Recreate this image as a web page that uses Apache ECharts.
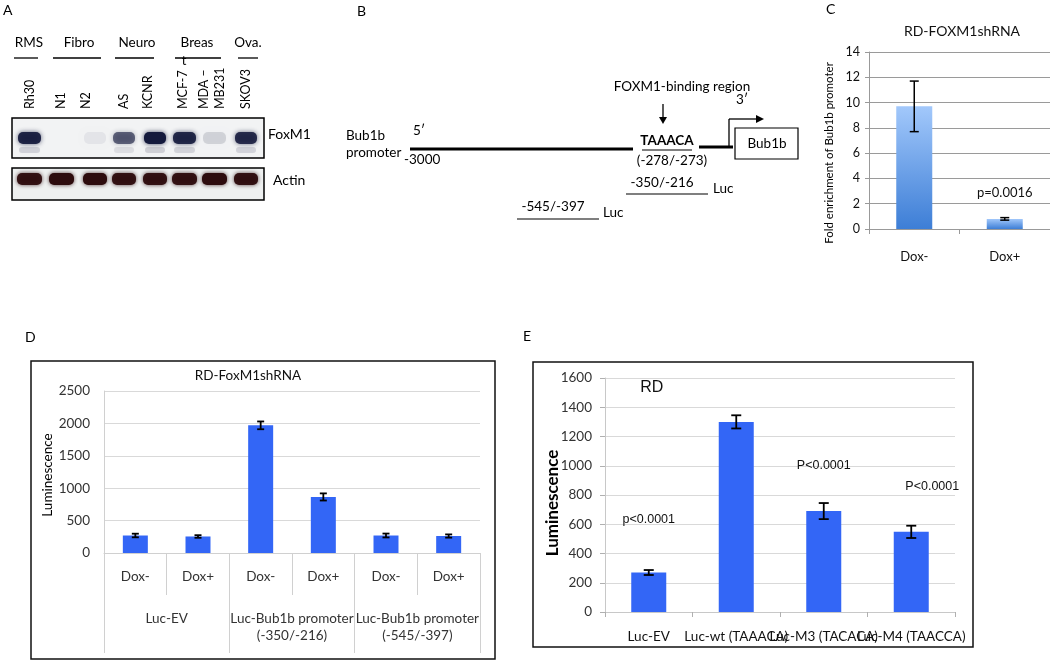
<!DOCTYPE html>
<html>
<head>
<meta charset="utf-8">
<script src="https://cdn.jsdelivr.net/npm/echarts@6/dist/echarts.min.js"></script>
<style>
html,body{margin:0;padding:0;background:#fff;}
#main{width:1050px;height:661px;}
</style>
</head>
<body>
<div id="main"></div>
<script>
// ---------- DATA ----------
// Panel A (western blot)
var blotGroups = ['RMS', 'Fibro', 'Neuro', 'Breas', 'Ova.'];
var blotLanes = ['Rh30', 'N1', 'N2', 'AS', 'KCNR', 'MCF-7', 'MDA –\nMB231', 'SKOV3'];
var foxm1Intensity = [0.92, 0.0, 0.06, 0.62, 1.0, 0.9, 0.14, 0.88];
var actinIntensity = [0.95, 1.0, 1.0, 0.95, 0.95, 0.95, 1.0, 0.95];

// Panel C
var cCategories = ['Dox-', 'Dox+'];
var cValues = [9.7, 0.8];
var cErrors = [2.0, 0.1];
var cTicks = [0, 2, 4, 6, 8, 10, 12, 14];

// Panel D
var dCategories = ['Dox-', 'Dox+', 'Dox-', 'Dox+', 'Dox-', 'Dox+'];
var dGroups = ['Luc-EV', 'Luc-Bub1b promoter\n(-350/-216)', 'Luc-Bub1b promoter\n(-545/-397)'];
var dValues = [270, 255, 1970, 865, 270, 262];
var dErrors = [28, 20, 60, 55, 30, 25];
var dTicks = [0, 500, 1000, 1500, 2000, 2500];

// Panel E
var eCategories = ['Luc-EV', 'Luc-wt (TAAACA)', 'Luc-M3 (TACACA)', 'Luc-M4 (TAACCA)'];
var eValues = [270, 1300, 690, 548];
var eErrors = [17, 45, 55, 42];
var ePvalues = ['p<0.0001', '', 'P<0.0001', 'P<0.0001'];
var eTicks = [0, 200, 400, 600, 800, 1000, 1200, 1400, 1600];

// ---------- HELPERS ----------
var CAL = 'Lato, "Open Sans", "Noto Sans", sans-serif';
var ARI = '"Liberation Sans", Arial, sans-serif';
function plain(v) { return String(v); }

function errData(vals, errs) {
  return vals.map(function (v, i) { return [i, v - errs[i], v + errs[i]]; });
}
function errRender(capW, lw) {
  return function (params, api) {
    var x = api.value(0), lo = api.value(1), hi = api.value(2);
    var p1 = api.coord([x, hi]), p2 = api.coord([x, lo]);
    var st = { stroke: '#000', lineWidth: lw };
    return {
      type: 'group',
      children: [
        { type: 'line', shape: { x1: p1[0], y1: p1[1], x2: p2[0], y2: p2[1] }, style: st },
        { type: 'line', shape: { x1: p1[0] - capW / 2, y1: p1[1], x2: p1[0] + capW / 2, y2: p1[1] }, style: st },
        { type: 'line', shape: { x1: p2[0] - capW / 2, y1: p2[1], x2: p2[0] + capW / 2, y2: p2[1] }, style: st }
      ]
    };
  };
}

// ---------- GRAPHIC: panel A ----------
var g = [];
function txt(x, y, s, o) {
  o = o || {};
  g.push({
    type: 'text', x: x, y: y, rotation: o.rot || 0, z: 10,
    style: {
      text: s, fontSize: o.size || 13, fontFamily: o.font || CAL, fill: o.color || '#000',
      fontWeight: o.bold ? 'bold' : 'normal', textAlign: o.align || 'left',
      textVerticalAlign: o.valign || 'middle', lineHeight: o.lh || undefined
    }
  });
}
function ln(x1, y1, x2, y2, w, c) {
  g.push({ type: 'line', z: 5, shape: { x1: x1, y1: y1, x2: x2, y2: y2 }, style: { stroke: c || '#000', lineWidth: w || 1 } });
}

txt(3, 10, 'A', { size: 14 });
var groupX = [29, 79, 137, 197, 248];
var groupLine = [[14, 38], [53, 101], [115, 154], [175, 221], [238, 258]];
blotGroups.forEach(function (s, i) {
  txt(groupX[i], 43, s, { size: 13.5, align: 'center' });
  ln(groupLine[i][0], 58, groupLine[i][1], 58, 1.3);
});
txt(184, 61, 't', { size: 13, align: 'center' });
var laneX = [30, 61, 86, 124, 148, 183, 212, 246];
blotLanes.forEach(function (s, i) {
  txt(laneX[i], 109, s, { size: 12.5, rot: Math.PI / 2, align: 'left', lh: 16 });
});
// blot boxes
g.push({ type: 'rect', z: 2, shape: { x: 12, y: 118, width: 252, height: 40 }, style: { fill: '#f2f3f4', stroke: '#000', lineWidth: 1.5 } });
g.push({ type: 'rect', z: 2, shape: { x: 12, y: 168, width: 252, height: 32 }, style: { fill: '#eef0f0', stroke: '#000', lineWidth: 1.5 } });
var bandX = [[17, 42], [49, 74], [83, 107], [112, 136], [143, 167], [172, 197], [202, 227], [234, 258]];
foxm1Intensity.forEach(function (v, i) {
  if (v <= 0.01) return;
  var b = bandX[i];
  var a = v;
  g.push({ type: 'rect', z: 3, shape: { x: b[0] + 1, y: 132, width: b[1] - b[0] - 2, height: 12, r: 5 },
    style: { fill: 'rgba(20,25,60,' + a + ')', shadowBlur: 5, shadowColor: 'rgba(20,25,60,' + a * 0.8 + ')' } });
  if (v > 0.5) {
    g.push({ type: 'rect', z: 3, shape: { x: b[0] + 2, y: 147, width: b[1] - b[0] - 4, height: 6, r: 3 },
      style: { fill: 'rgba(60,60,90,' + a * 0.18 + ')', shadowBlur: 4, shadowColor: 'rgba(60,60,90,0.15)' } });
  }
});
actinIntensity.forEach(function (v, i) {
  var b = bandX[i];
  g.push({ type: 'rect', z: 3, shape: { x: b[0], y: 173, width: b[1] - b[0], height: 12, r: 5 },
    style: { fill: 'rgba(45,12,14,' + v + ')', shadowBlur: 4, shadowColor: 'rgba(45,12,14,0.8)' } });
});
txt(268, 134, 'FoxM1', { size: 14 });
txt(273, 180, 'Actin', { size: 14 });

// ---------- GRAPHIC: panel B ----------
txt(357, 11, 'B', { size: 14 });
txt(682, 87, 'FOXM1-binding region', { size: 13.5, align: 'center' });
ln(663, 104, 663, 118, 1.3);
g.push({ type: 'polygon', z: 5, shape: { points: [[659, 117], [667, 117], [663, 124]] }, style: { fill: '#000' } });
txt(742, 100, '3′', { size: 13.5, align: 'center' });
ln(729, 148, 729, 119, 1.3);
ln(729, 119, 757, 119, 1.3);
g.push({ type: 'polygon', z: 5, shape: { points: [[756, 115], [764, 119], [756, 123]] }, style: { fill: '#000' } });
txt(419, 131, '5′', { size: 13.5, align: 'center' });
txt(346, 136, 'Bub1b', { size: 13.5 });
txt(346, 153, 'promoter', { size: 13.5 });
ln(410, 149, 633, 149, 3);
txt(404, 160, '-3000', { size: 13.5 });
txt(667, 141, 'TAAACA', { size: 13.5, align: 'center', bold: true });
ln(642, 150, 692, 150, 1.2);
txt(672, 161, '(-278/-273)', { size: 13.5, align: 'center' });
ln(699, 147, 733, 147, 3);
g.push({ type: 'rect', z: 5, shape: { x: 735, y: 128, width: 63, height: 31 }, style: { fill: '#fff', stroke: '#000', lineWidth: 1.2 } });
txt(767, 144, 'Bub1b', { size: 13.5, align: 'center' });
txt(662, 183, '-350/-216', { size: 13.5, align: 'center' });
ln(626, 194, 708, 194, 1.2);
txt(713, 189, 'Luc', { size: 13.5 });
txt(553, 207, '-545/-397', { size: 13.5, align: 'center' });
ln(517, 219, 599, 219, 1.2);
txt(603, 213, 'Luc', { size: 13.5 });

// ---------- panel labels, axis names & boxes ----------
txt(826, 9, 'C', { size: 14 });
txt(25, 337, 'D', { size: 14 });
txt(523, 336, 'E', { size: 14 });
txt(829, 153, 'Fold enrichment of Bub1b promoter', { size: 11.5, rot: Math.PI / 2, align: 'center' });
txt(48, 475, 'Luminescence', { size: 13.5, rot: Math.PI / 2, align: 'center' });
txt(553, 503, 'Luminescence', { size: 17, rot: Math.PI / 2, align: 'center', bold: true });
g.push({ type: 'rect', z: 0, shape: { x: 31, y: 361, width: 464, height: 298 }, style: { fill: 'none', stroke: '#111', lineWidth: 1.5 } });
g.push({ type: 'rect', z: 0, shape: { x: 533, y: 362, width: 440, height: 285 }, style: { fill: 'none', stroke: '#111', lineWidth: 1.5 } });

// ---------- OPTION ----------
var gradC = new echarts.graphic.LinearGradient(0, 0, 0, 1, [
  { offset: 0, color: '#a2c8fb' }, { offset: 1, color: '#3d7ed6' }
]);

var option = {
  animation: false,
  backgroundColor: '#fff',
  title: [
    { text: 'RD-FOXM1shRNA', left: 957, top: 19, textAlign: 'center',
      textStyle: { fontSize: 14, fontWeight: 'normal', fontFamily: CAL, color: '#111' } },
    { text: 'RD-FoxM1shRNA', left: 243, top: 364, textAlign: 'center',
      textStyle: { fontSize: 13.5, fontWeight: 'normal', fontFamily: CAL, color: '#111' } }
  ],
  grid: [
    { left: 869, top: 52, width: 181, height: 177 },
    { left: 104, top: 391, width: 376, height: 162 },
    { left: 605, top: 378, width: 350, height: 234 }
  ],
  xAxis: [
    { type: 'category', gridIndex: 0, data: cCategories,
      axisLine: { lineStyle: { color: '#999' } },
      axisTick: { show: true, length: 5, lineStyle: { color: '#999' } },
      axisLabel: { margin: 21, fontSize: 13, fontFamily: CAL, color: '#111' } },
    { type: 'category', gridIndex: 1, data: dCategories,
      axisLine: { lineStyle: { color: '#d0d0d0' } },
      axisTick: { show: true, interval: 0, length: 42, lineStyle: { color: '#d0d0d0' } },
      axisLabel: { margin: 17, fontSize: 13.5, fontFamily: CAL, color: '#333', interval: 0 } },
    { type: 'category', gridIndex: 1, data: dGroups, position: 'bottom',
      axisLine: { show: false },
      axisTick: { show: true, interval: 0, length: 100, lineStyle: { color: '#d0d0d0' } },
      axisLabel: { margin: 57, fontSize: 13.5, fontFamily: CAL, color: '#333', interval: 0, lineHeight: 17 } },
    { type: 'category', gridIndex: 2, data: eCategories,
      axisLine: { lineStyle: { color: '#c8c8c8' } },
      axisTick: { show: true, interval: 0, length: 5, lineStyle: { color: '#b0b0b0' } },
      axisLabel: { margin: 18, fontSize: 13.5, fontFamily: CAL, color: '#111', interval: 0, overflow: 'none' } }
  ],
  yAxis: [
    { type: 'value', gridIndex: 0, min: cTicks[0], max: cTicks[cTicks.length - 1], interval: 2,
      axisLine: { show: true, lineStyle: { color: '#999' } },
      axisTick: { show: true, length: 4, lineStyle: { color: '#999' } },
      splitLine: { lineStyle: { color: '#9a9a9a' } },
      axisLabel: { margin: 9, fontSize: 12.5, fontFamily: CAL, color: '#111', formatter: plain } },
    { type: 'value', gridIndex: 1, min: dTicks[0], max: dTicks[dTicks.length - 1], interval: 500,
      axisLine: { show: true, lineStyle: { color: '#d0d0d0' } },
      axisTick: { show: false },
      splitLine: { lineStyle: { color: '#d9d9d9' } },
      axisLabel: { margin: 14, fontSize: 13.5, fontFamily: CAL, color: '#333', formatter: plain } },
    { type: 'value', gridIndex: 2, min: eTicks[0], max: eTicks[eTicks.length - 1], interval: 200,
      axisLine: { show: true, lineStyle: { color: '#c8c8c8' } },
      axisTick: { show: true, length: 5, lineStyle: { color: '#b0b0b0' } },
      splitLine: { lineStyle: { color: '#d9d9d9' } },
      axisLabel: { margin: 13, fontSize: 13.5, fontFamily: CAL, color: '#333', formatter: plain } }
  ],
  series: [
    { type: 'bar', xAxisIndex: 0, yAxisIndex: 0, data: cValues, barWidth: 36,
      itemStyle: { color: gradC },
      label: { show: true, position: 'top', distance: 20,
        formatter: function (p) { return p.dataIndex === 1 ? 'p=0.0016' : ''; },
        fontSize: 13, fontFamily: CAL, color: '#111' } },
    { type: 'custom', xAxisIndex: 0, yAxisIndex: 0, data: errData(cValues, cErrors),
      encode: { x: 0, y: [1, 2] }, renderItem: errRender(9, 1.5), z: 5 },

    { type: 'bar', xAxisIndex: 1, yAxisIndex: 1, data: dValues, barWidth: 25,
      itemStyle: { color: '#3366f6' } },
    { type: 'custom', xAxisIndex: 1, yAxisIndex: 1, data: errData(dValues, dErrors),
      encode: { x: 0, y: [1, 2] }, renderItem: errRender(7, 1.8), z: 5 },

    { type: 'bar', xAxisIndex: 3, yAxisIndex: 2, data: eValues, barWidth: 35,
      itemStyle: { color: '#3366f6' } },
    { type: 'custom', xAxisIndex: 3, yAxisIndex: 2, data: errData(eValues, eErrors),
      encode: { x: 0, y: [1, 2] }, renderItem: errRender(10, 1.8), z: 5 }
  ],
  graphic: { elements: g }
};

var chart = echarts.init(document.getElementById('main'), null, { renderer: 'canvas' });
chart.setOption(option);
// P-value labels for panel E, positioned via the library's scales
var eIdx = [0, 2, 3];
var eLabelY = [635, 1000, 860];
var eOffsets = [0, 0, 21];
var extra = [];
eIdx.forEach(function (ci, k) {
  var p = chart.convertToPixel({ xAxisIndex: 3, yAxisIndex: 2 }, [ci, eLabelY[k]]);
  extra.push({ type: 'text', x: p[0] + eOffsets[k], y: p[1], z: 10,
    style: { text: ePvalues[ci], fontSize: 12.5, fontFamily: ARI, fill: '#111', textAlign: 'center', textVerticalAlign: 'middle' } });
});
var rdP = chart.convertToPixel({ xAxisIndex: 3, yAxisIndex: 2 }, [0, 1535]);
extra.push({ type: 'text', x: rdP[0] + 3, y: rdP[1], z: 10,
  style: { text: 'RD', fontSize: 16, fontFamily: ARI, fill: '#111', textAlign: 'center', textVerticalAlign: 'middle' } });
chart.setOption({ graphic: { elements: g.concat(extra) } });
</script>
</body>
</html>
